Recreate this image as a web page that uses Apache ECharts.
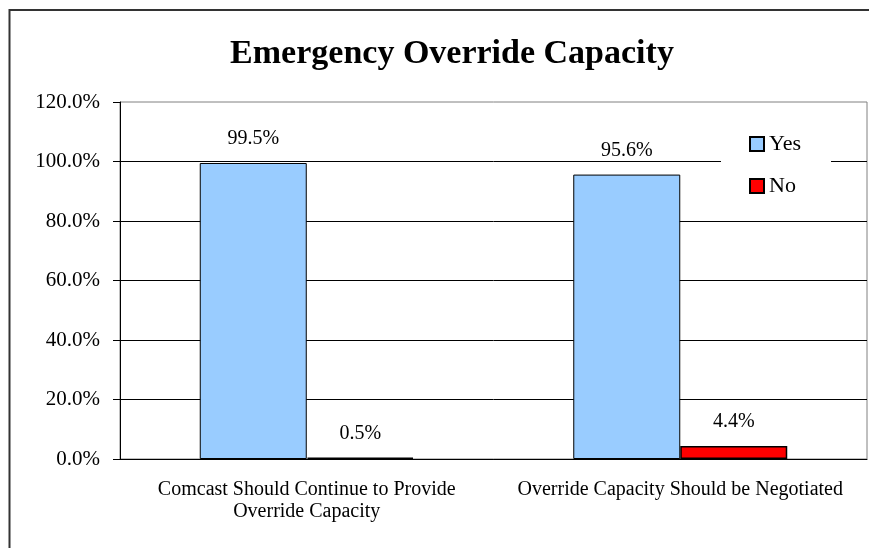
<!DOCTYPE html>
<html>
<head>
<meta charset="utf-8">
<script src="https://cdn.jsdelivr.net/npm/echarts@6/dist/echarts.min.js"></script>
<style>
  html, body { margin: 0; padding: 0; background: #fff; }
  #chart { width: 869px; height: 548px; }
</style>
</head>
<body>
<div id="chart"></div>
<script>
const categories = [
    "Comcast Should Continue to Provide\nOverride Capacity",
    "Override Capacity Should be Negotiated"
];
const yesValues = [99.5, 95.6];
const noValues = [0.5, 4.4];
const seriesNames = ["Yes", "No"];

const FONT = "'Liberation Serif', 'DejaVu Serif', serif";

const chart = echarts.init(document.getElementById("chart"));

// bar label, same look for both series
const barLabel = {
    show: true,
    position: "top",
    distance: 14,
    color: "#000",
    fontFamily: FONT,
    fontSize: 20,
    formatter: function (p) {
        return p.value.toFixed(1) + "%";
    }
};

const option = {
    backgroundColor: "#fff",
    animation: false,
    title: {
        text: "Emergency Override Capacity",
        left: 447,
        top: 32,
        textAlign: "center",
        textStyle: {
            fontFamily: FONT,
            fontWeight: "bold",
            fontSize: 34,
            color: "#000"
        }
    },
    legend: {
        data: seriesNames,
        orient: "vertical",
        left: 721,
        top: 121,
        padding: [12, 30, 14, 28],
        itemGap: 20,
        itemWidth: 14,
        itemHeight: 14,
        icon: "rect",
        backgroundColor: "#fff",
        textStyle: {
            fontFamily: FONT,
            fontSize: 22,
            lineHeight: 18,
            color: "#000"
        }
    },
    grid: {
        left: 120,
        right: 2,
        top: 102,
        bottom: 89,
        show: true,
        borderColor: "#808080",
        borderWidth: 1
    },
    xAxis: {
        type: "category",
        data: categories,
        axisLine: { lineStyle: { color: "#000", width: 1 } },
        axisTick: { length: 6, lineStyle: { color: "#000" } },
        axisLabel: {
            margin: 20,
            fontFamily: FONT,
            fontSize: 20,
            lineHeight: 22,
            color: "#000",
            interval: 0
        },
        splitLine: { show: false }
    },
    yAxis: {
        type: "value",
        min: 0,
        max: 120,
        interval: 20,
        axisLine: { show: true, lineStyle: { color: "#000", width: 1 } },
        axisTick: { show: true, length: 7, lineStyle: { color: "#000" } },
        axisLabel: {
            margin: 20,
            fontFamily: FONT,
            fontSize: 21,
            color: "#000",
            formatter: function (v) {
                return v.toFixed(1) + "%";
            }
        },
        splitLine: {
            show: true,
            showMaxLine: false,
            lineStyle: { color: "#000", width: 1 }
        }
    },
    series: [
        {
            name: seriesNames[0],
            type: "bar",
            data: yesValues,
            barWidth: 107,
            barGap: "0%",
            itemStyle: { color: "#99CCFF", borderColor: "#000", borderWidth: 1 },
            label: barLabel
        },
        {
            name: seriesNames[1],
            type: "bar",
            data: noValues,
            barWidth: 107,
            itemStyle: { color: "#FF0000", borderColor: "#000", borderWidth: 1.5 },
            label: barLabel
        }
    ],
    graphic: [
        {
            // outer chart frame, cut by the right and bottom edges
            type: "rect",
            silent: true,
            shape: { x: 9.5, y: 10, width: 900, height: 600 },
            style: { fill: null, stroke: "#333", lineWidth: 2 }
        }
    ]
};

chart.setOption(option);
</script>
</body>
</html>
